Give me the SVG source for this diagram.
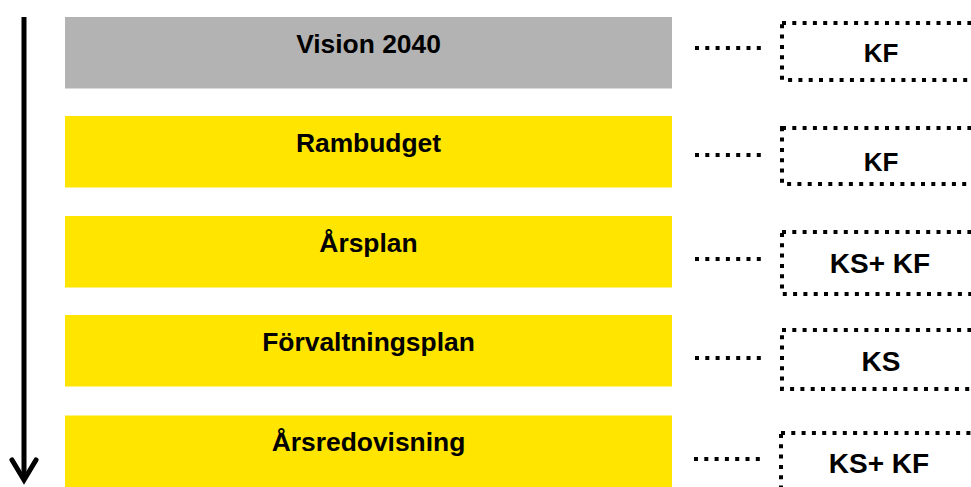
<svg xmlns="http://www.w3.org/2000/svg" width="971" height="487" viewBox="0 0 971 487">
  <style>
    .step { stroke: none; }
    .vision { fill: #B3B3B3; }
    .plan { fill: #FFE500; }
    .title { font-family: "Liberation Sans", Arial, sans-serif; font-weight: bold; font-size: 26.4px; fill: #000; text-anchor: middle; }
    .body { font-family: "Liberation Sans", Arial, sans-serif; font-weight: bold; font-size: 26px; fill: #000; text-anchor: middle; }
    .body.wide { font-size: 28px; }
    .dots { fill: none; stroke: #000; stroke-width: 4; stroke-dasharray: 4 6.3; }
    .flow { fill: none; stroke: #000; stroke-width: 5; }
  </style>
  <defs>
    <!-- open V arrowhead, drawn along the line direction -->
    <marker id="openHead" markerUnits="userSpaceOnUse" viewBox="-26 -16 32 32" refX="0" refY="0" markerWidth="32" markerHeight="32" orient="auto">
      <polyline points="-20,-12 0,0 -20,12" fill="none" stroke="#000" stroke-width="5" stroke-linecap="round" stroke-linejoin="miter"/>
    </marker>
  </defs>

  <!-- time axis running down the left side -->
  <g id="timeline">
    <line class="flow" x1="24" y1="17" x2="24" y2="480" marker-end="url(#openHead)"/>
  </g>

  <!-- planning documents -->
  <g id="vision">
    <rect class="step vision" x="65" y="17" width="607" height="71.5"/>
    <text class="title" x="368.5" y="53">Vision 2040</text>
  </g>
  <g id="rambudget">
    <rect class="step plan" x="65" y="116" width="607" height="71.5"/>
    <text class="title" x="368.5" y="152">Rambudget</text>
  </g>
  <g id="arsplan">
    <rect class="step plan" x="65" y="216" width="607" height="71.5"/>
    <text class="title" x="368.5" y="252">Årsplan</text>
  </g>
  <g id="forvaltningsplan">
    <rect class="step plan" x="65" y="315" width="607" height="71.5"/>
    <text class="title" x="368.5" y="351">Förvaltningsplan</text>
  </g>
  <g id="arsredovisning">
    <rect class="step plan" x="65" y="415.5" width="607" height="71.5"/>
    <text class="title" x="368.5" y="451">Årsredovisning</text>
  </g>

  <!-- decision bodies -->
  <g id="beslut-vision">
    <rect class="dots" x="782" y="23" width="198" height="57"/>
    <text class="body" x="881" y="62">KF</text>
  </g>
  <g id="beslut-rambudget">
    <rect class="dots" x="782" y="128" width="198" height="56"/>
    <text class="body" x="881" y="171">KF</text>
  </g>
  <g id="beslut-arsplan">
    <rect class="dots" x="782" y="232" width="198" height="62"/>
    <text class="body wide" x="880" y="273">KS+ KF</text>
  </g>
  <g id="beslut-forvaltningsplan">
    <rect class="dots" x="782" y="330" width="198" height="59"/>
    <text class="body wide" x="881" y="371">KS</text>
  </g>
  <g id="beslut-arsredovisning">
    <rect class="dots" x="781" y="433" width="198" height="62"/>
    <text class="body wide" x="879" y="473">KS+ KF</text>
  </g>

  <!-- dotted links between documents and decision bodies -->
  <g id="connectors">
    <line class="dots" x1="695" y1="48" x2="765" y2="48"/>
    <line class="dots" x1="695" y1="155" x2="765" y2="155"/>
    <line class="dots" x1="695" y1="259" x2="765" y2="259"/>
    <line class="dots" x1="695" y1="358" x2="765" y2="358"/>
    <line class="dots" x1="694" y1="459" x2="764" y2="459"/>
  </g>
</svg>
